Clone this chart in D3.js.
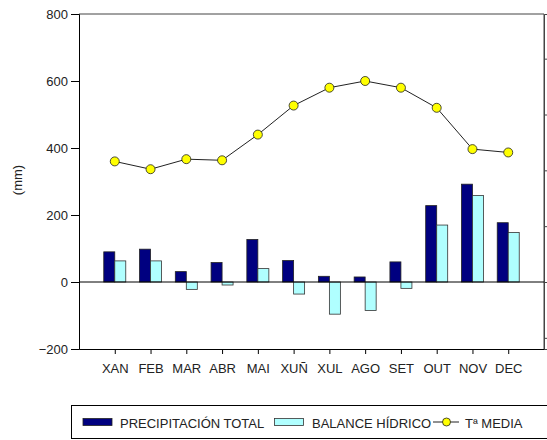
<!DOCTYPE html>
<html>
<head>
<meta charset="utf-8">
<script src="https://cdn.jsdelivr.net/npm/d3@7"></script>
<style>
  body { margin: 0; background: #fff; }
  svg { display: block; font-family: "Liberation Sans", Arial, sans-serif; }
</style>
</head>
<body>
<div id="chart"></div>
<script>
// chart data
const months = ["XAN", "FEB", "MAR", "ABR", "MAI", "XUÑ", "XUL", "AGO", "SET", "OUT", "NOV", "DEC"];
const precipitation = [90, 98, 31, 58, 127, 64, 17, 15, 60, 228, 292, 177];
const balance = [63, 63, -22, -9, 40, -36, -96, -85, -19, 170, 258, 148];
const temperature = [10.8, 10.1, 11.0, 10.9, 13.2, 15.8, 17.4, 18.0, 17.4, 15.6, 11.9, 11.6];
const mmTicks = [-200, 0, 200, 400, 600, 800];
const tempTicks = [-5, 0, 5, 10, 15, 20];

const margin = {top: 14, right: 3, bottom: 91, left: 79};
const width = 547 - margin.left - margin.right;
const height = 440 - margin.top - margin.bottom;

const svg = d3.select("#chart")
              .append("svg")
              .attr("width", 547)
              .attr("height", 440);

const g = svg.append("g")
             .attr("transform", `translate(${margin.left}, ${margin.top})`);

// scales
const x = d3.scalePoint()
            .domain(months)
            .range([0, width])
            .padding(1);

const y = d3.scaleLinear()
            .domain([-200, 800])
            .range([height, 0]);

const yTemp = d3.scaleLinear()
                .domain([-6, 24])
                .range([height, 0]);

const barW = 11;

// frame: top + right
g.append("line")
 .attr("x1", 0).attr("x2", width)
 .attr("y1", 0).attr("y2", 0)
 .attr("stroke", "#444");
g.append("line")
 .attr("x1", width).attr("x2", width)
 .attr("y1", 0).attr("y2", height)
 .attr("stroke", "#444");

// left axis
const leftAxis = g.append("g")
                  .call(d3.axisLeft(y).tickValues(mmTicks).tickSize(8).tickPadding(3));
leftAxis.select(".domain").attr("stroke", "#000");
leftAxis.selectAll("text").style("font-size", "13px").attr("fill", "#222");

// right axis, ticks only
const rightAxis = g.append("g")
                   .attr("transform", `translate(${width}, 0)`)
                   .call(d3.axisRight(yTemp).tickValues(tempTicks).tickSize(4).tickFormat(""));
rightAxis.select(".domain").attr("stroke", "#444");
rightAxis.selectAll("line").attr("stroke", "#444");

// bottom axis
const bottomAxis = g.append("g")
                    .attr("transform", `translate(0, ${height})`)
                    .call(d3.axisBottom(x).tickSize(5).tickPadding(10).tickSizeOuter(0));
bottomAxis.select(".domain").attr("stroke", "#000");
bottomAxis.selectAll("text").style("font-size", "13px").attr("fill", "#222");

// y label
svg.append("text")
   .attr("transform", "translate(22, 180) rotate(-90)")
   .attr("text-anchor", "middle")
   .attr("fill", "#222")
   .style("font-size", "13px")
   .text("(mm)");

// bars
g.selectAll(".prec")
 .data(precipitation)
 .enter()
 .append("rect")
 .attr("x", (d, i) => x(months[i]) - barW)
 .attr("y", d => y(Math.max(0, d)))
 .attr("width", barW)
 .attr("height", d => Math.abs(y(d) - y(0)))
 .attr("fill", "#000080")
 .attr("stroke", "#222")
 .attr("stroke-width", 0.8);

g.selectAll(".bal")
 .data(balance)
 .enter()
 .append("rect")
 .attr("x", (d, i) => x(months[i]))
 .attr("y", d => y(Math.max(0, d)))
 .attr("width", barW)
 .attr("height", d => Math.abs(y(d) - y(0)))
 .attr("fill", "#B0FFFF")
 .attr("stroke", "#333")
 .attr("stroke-width", 0.8);

// zero line
g.append("line")
 .attr("x1", 0).attr("x2", width)
 .attr("y1", y(0)).attr("y2", y(0))
 .attr("stroke", "#000");

// temperature line
const line = d3.line()
               .x((d, i) => x(months[i]))
               .y(d => yTemp(d));

g.append("path")
 .datum(temperature)
 .attr("d", line)
 .attr("fill", "none")
 .attr("stroke", "#222")
 .attr("stroke-width", 1);

g.selectAll(".temp")
 .data(temperature)
 .enter()
 .append("circle")
 .attr("cx", (d, i) => x(months[i]))
 .attr("cy", d => yTemp(d))
 .attr("r", 4.5)
 .attr("fill", "#FFFF00")
 .attr("stroke", "#222")
 .attr("stroke-width", 0.8);

// legend
const legend = svg.append("g");
legend.append("rect")
      .attr("x", 71.5).attr("y", 405.5)
      .attr("width", 490).attr("height", 33)
      .attr("fill", "none")
      .attr("stroke", "#000");

legend.append("rect")
      .attr("x", 83).attr("y", 418.5).attr("width", 29).attr("height", 7)
      .attr("fill", "#000080").attr("stroke", "#222").attr("stroke-width", 0.8);
legend.append("text")
      .attr("x", 120).attr("y", 427.5)
      .attr("fill", "#222")
      .style("font-size", "13px")
      .text("PRECIPITACIÓN TOTAL");

legend.append("rect")
      .attr("x", 274.5).attr("y", 418.5).attr("width", 29).attr("height", 7)
      .attr("fill", "#B0FFFF").attr("stroke", "#333").attr("stroke-width", 0.8);
legend.append("text")
      .attr("x", 312).attr("y", 427.5)
      .attr("fill", "#222")
      .style("font-size", "13px")
      .text("BALANCE HÍDRICO");

legend.append("line")
      .attr("x1", 433).attr("x2", 459)
      .attr("y1", 422).attr("y2", 422)
      .attr("stroke", "#222");
legend.append("circle")
      .attr("cx", 446.5).attr("cy", 422).attr("r", 4)
      .attr("fill", "#FFFF00").attr("stroke", "#222").attr("stroke-width", 0.8);
legend.append("text")
      .attr("x", 465).attr("y", 427.5)
      .attr("fill", "#222")
      .style("font-size", "13px")
      .text("Tª MEDIA");
</script>
</body>
</html>
